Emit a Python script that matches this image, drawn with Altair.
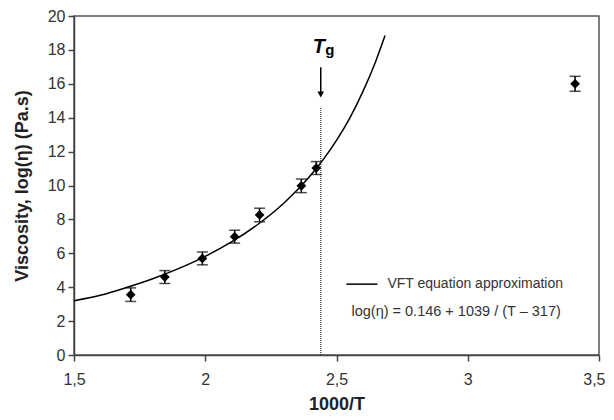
import altair as alt
import pandas as pd

# measured points (1000/T, log viscosity) with error bar half-widths
x_pts = [1.716, 1.846, 1.989, 2.112, 2.207, 2.366, 2.423, 3.409]
y_pts = [3.56, 4.6, 5.7, 6.98, 8.26, 9.98, 11.03, 16.0]
err = [0.4, 0.38, 0.38, 0.38, 0.4, 0.4, 0.38, 0.44]

# VFT approximation curve
curve_x = [1.5, 1.6, 1.7, 1.8, 1.9, 2.0, 2.1, 2.2, 2.3, 2.4, 2.45, 2.5, 2.55, 2.6, 2.65, 2.685]
curve_y = [3.2, 3.52, 3.98, 4.5, 5.11, 5.82, 6.67, 7.7, 8.97, 10.57, 11.54, 12.66, 13.96, 15.52, 17.35, 18.85]

x_ticks = [1.5, 2, 2.5, 3, 3.5]
y_ticks = [0, 2, 4, 6, 8, 10, 12, 14, 16, 18, 20]

tg_x = 2.44

pts = pd.DataFrame({"x": x_pts, "y": y_pts, "e": err})
pts["lo"] = pts["y"] - pts["e"]
pts["hi"] = pts["y"] + pts["e"]
curve = pd.DataFrame({"x": curve_x, "y": curve_y})

FONT = "Liberation Sans"
xs = alt.Scale(domain=[1.5, 3.5], nice=False, zero=False)
ys = alt.Scale(domain=[0, 20], nice=False)

x_axis = alt.Axis(values=x_ticks, labelExpr="replace(toString(datum.value), '.', ',')",
                  labelPadding=10, titlePadding=8, labelOverlap=False, labelFlush=False, tickCount=20,
                  labelAlign=alt.condition("datum.value == 3.5", alt.value("right"), alt.value("center")),
                  labelOffset=alt.condition("datum.value == 3.5", alt.value(6), alt.value(0)))
y_axis = alt.Axis(values=y_ticks, format="d", labelPadding=3, titlePadding=16, labelOverlap=False,
                  labelFlush=False, labelBound=False, tickCount=30)


def X(f="x"):
    return alt.X(f + ":Q", scale=xs, title="1000/T", axis=x_axis)


def Y(f="y"):
    return alt.Y(f + ":Q", scale=ys, title="Viscosity, log(η) (Pa.s)", axis=y_axis)


line = alt.Chart(curve).mark_line(color="black", strokeWidth=1.5, interpolate="monotone").encode(x=X(), y=Y())

bars = alt.Chart(pts).mark_rule(color="black", strokeWidth=1.5).encode(x=X(), y=Y("lo"), y2="hi:Q")
cap_lo = alt.Chart(pts).mark_tick(color="black", orient="horizontal", size=11, thickness=1.5).encode(
    x=X(), y=Y("lo"))
cap_hi = alt.Chart(pts).mark_tick(color="black", orient="horizontal", size=11, thickness=1.5).encode(
    x=X(), y=Y("hi"))
dots = alt.Chart(pts).mark_point(shape="diamond", filled=True, color="black", size=95, opacity=1).encode(
    x=X(), y=Y())

# Tg marker
tg_line = alt.Chart(pd.DataFrame({"x": [tg_x], "y": [0], "y2": [14.64]})).mark_rule(
    color="#333", strokeWidth=1.2, strokeDash=[1, 1]).encode(x=X(), y=Y(), y2="y2:Q")
arrow = alt.Chart(pd.DataFrame({"x": [tg_x], "y": [16.98], "y2": [15.5]})).mark_rule(
    color="black", strokeWidth=1.5).encode(x=X(), y=Y(), y2="y2:Q")
head = alt.Chart(pd.DataFrame({"x": [tg_x], "y": [15.37]})).mark_point(
    shape="triangle-down", filled=True, color="black", size=45, opacity=1).encode(x=X(), y=Y())
tg_T = alt.Chart(pd.DataFrame({"x": [tg_x], "y": [18.15], "t": ["T"]})).mark_text(
    font=FONT, fontSize=20, fontWeight="bold", fontStyle="italic", color="black", dx=-2).encode(
    x=X(), y=Y(), text="t:N")
tg_g = alt.Chart(pd.DataFrame({"x": [tg_x], "y": [18.15], "t": ["g"]})).mark_text(
    font=FONT, fontSize=15, fontWeight="bold", color="black", dx=9, dy=3).encode(
    x=X(), y=Y(), text="t:N")

# legend / equation
leg_line = alt.Chart(pd.DataFrame({"x": [2.538], "x2": [2.656], "y": [4.18]})).mark_rule(
    color="black", strokeWidth=1.5).encode(x=X(), x2="x2:Q", y=Y())
leg_text = alt.Chart(pd.DataFrame({"x": [2.694], "y": [4.18], "t": ["VFT equation approximation"]})).mark_text(
    font=FONT, fontSize=14, color="#333", align="left", baseline="middle").encode(
    x=X(), y=Y(), text="t:N")
eq_text = alt.Chart(pd.DataFrame({"x": [2.557], "y": [2.54], "t": ["log(η) = 0.146 + 1039 / (T – 317)"]})).mark_text(
    font=FONT, fontSize=14.5, color="#333", align="left", baseline="middle").encode(
    x=X(), y=Y(), text="t:N")

chart = alt.layer(line, tg_line, bars, cap_lo, cap_hi, dots, arrow, head, tg_T, tg_g,
                  leg_line, leg_text, eq_text).properties(
    width=525, height=339,
    autosize=alt.AutoSizeParams(type="none"),
    padding={"left": 66, "top": 8, "right": 7, "bottom": 57},
).configure_view(stroke="#555", strokeWidth=1.5).configure_axis(
    grid=False, domainColor="#444", domainWidth=1.5, tickColor="#444", tickWidth=1.5, tickSize=6,
    labelFont=FONT, labelFontSize=16, labelColor="#333",
    titleFont=FONT, titleFontSize=18, titleFontWeight="bold", titleColor="#222",
)

chart.save("out.html", embed_options={"renderer": "svg", "actions": False})
